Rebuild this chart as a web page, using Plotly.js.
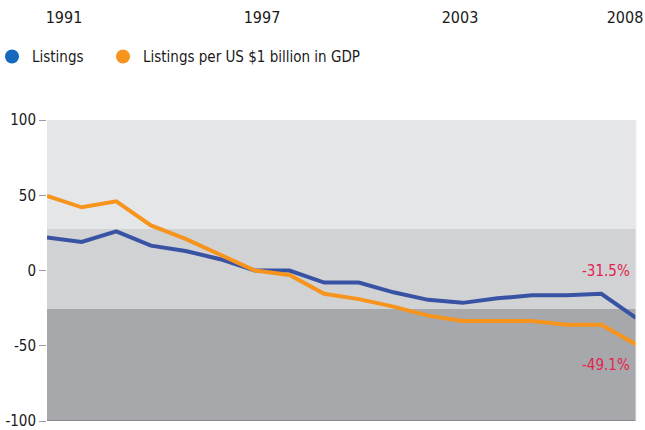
<!DOCTYPE html>
<html>
<head>
<meta charset="utf-8">
<script src="https://cdn.plot.ly/plotly-3.0.1.min.js"></script>
<style>html,body{margin:0;padding:0;background:#fff;}#chart{width:645px;height:430px;}</style>
</head>
<body>
<div id="chart"></div>
<script>
var years = [1991,1992,1993,1994,1995,1996,1997,1998,1999,2000,2001,2002,2003,2004,2005,2006,2007,2008];
var listings = [22,19,26,16.5,13,7.5,0,0,-8,-8,-14.5,-19.5,-21.5,-18.5,-16.5,-16.5,-15.5,-31.5];
var listingsPerGDP = [49.5,42,46,30,21,10.5,0,-3,-15.5,-19,-24,-30,-33.5,-33.5,-33.5,-36,-36,-49.1];
var topTickYears = [1991,1997,2003,2008];
var yTicks = [100,50,0,-50,-100];
var seriesNames = ['Listings','Listings per US $1 billion in GDP'];
var endLabels = ['-31.5%','-49.1%'];
var bandEdges = [100,27.5,-25.5,-100];

var lineBlue = '#3953a4', lineOrange = '#f7941d';
var legBlue = '#1469bd', legOrange = '#f7941d';
var FONT = '"DejaVu Sans Condensed", "DejaVu Sans", sans-serif';

var traces = [
  {x: years, y: listings, xaxis:'x', yaxis:'y', mode:'lines', line:{color:lineBlue, width:4}, showlegend:false, hoverinfo:'skip'},
  {x: years, y: listingsPerGDP, xaxis:'x', yaxis:'y', mode:'lines', line:{color:lineOrange, width:4}, showlegend:false, hoverinfo:'skip'},
  {x:[null], y:[null], mode:'markers', name: seriesNames[0], marker:{color:legBlue, size:14}, showlegend:true, legend:'legend'},
  {x:[null], y:[null], mode:'markers', name: seriesNames[1], marker:{color:legOrange, size:14}, showlegend:true, legend:'legend2'},
  {x: topTickYears, y: topTickYears.map(function(){return null;}), xaxis:'x2', yaxis:'y', mode:'markers', showlegend:false, hoverinfo:'skip'}
];

var bandColors = ['#e5e6e8','#d1d2d4','#a7a8ab'];
var shapes = [];
for (var i=0;i<3;i++){
  shapes.push({type:'rect', xref:'paper', yref:'y', x0:0, x1:1, y0:bandEdges[i+1], y1:bandEdges[i], fillcolor:bandColors[i], line:{width:0}, layer:'below'});
}
shapes.push({type:'line', xref:'paper', yref:'y', x0:0, x1:1, y0:-100, y1:-100, line:{color:'#8c8d90', width:2}, layer:'above'});
shapes.push({type:'line', xref:'paper', yref:'y', x0:1, x1:1, y0:-100, y1:100, line:{color:'#ededee', width:1}, layer:'above'});

var legendCommon = {orientation:'h', xanchor:'left', y:1.21, yanchor:'middle', font:{size:15, color:'#1a1a1a', family:FONT}, bgcolor:'rgba(0,0,0,0)'};
var legend1 = Object.assign({}, legendCommon, {x:-0.0934});
var legend2 = Object.assign({}, legendCommon, {x:0.0951});

var layout = {
  width:645, height:430,
  margin:{l:47, r:9, t:120, b:9, autoexpand:false},
  paper_bgcolor:'#ffffff', plot_bgcolor:'rgba(0,0,0,0)',
  font:{family:FONT, color:'#1a1a1a'},
  showlegend:true,
  legend: legend1,
  legend2: legend2,
  xaxis:{range:[1991,2008], showgrid:false, zeroline:false, showticklabels:false, ticks:'', showline:false, fixedrange:true, automargin:false},
  xaxis2:{overlaying:'x', side:'top', anchor:'y', range:[1990.485,2008.333], tickvals: topTickYears, ticktext: topTickYears.map(String), showgrid:false, zeroline:false, ticks:'', showline:false, tickfont:{size:16, color:'#1a1a1a'}, ticklabelstandoff:93, automargin:false, ticklabeloverflow:'allow'},
  yaxis:{range:[-100,100], tickvals:yTicks, ticktext: yTicks.map(String), showgrid:false, zeroline:false, ticks:'outside', ticklen:7, tickwidth:1, tickcolor:'#9a9a9a', tickfont:{size:15, color:'#1a1a1a'}, showline:false, fixedrange:true, automargin:false, ticklabeloverflow:'allow'},
  shapes: shapes,
  annotations:[
    {x:2008, y:listings[listings.length-1], xref:'x', yref:'y', text:endLabels[0], showarrow:false, xanchor:'right', yanchor:'middle', xshift:-4, yshift:47, font:{size:15, color:'#e3234d'}},
    {x:2008, y:listingsPerGDP[listingsPerGDP.length-1], xref:'x', yref:'y', text:endLabels[1], showarrow:false, xanchor:'right', yanchor:'middle', xshift:-4, yshift:-21, font:{size:15, color:'#e3234d'}}
  ]
};

Plotly.newPlot('chart', traces, layout, {displayModeBar:false, staticPlot:true});
</script>
</body>
</html>
